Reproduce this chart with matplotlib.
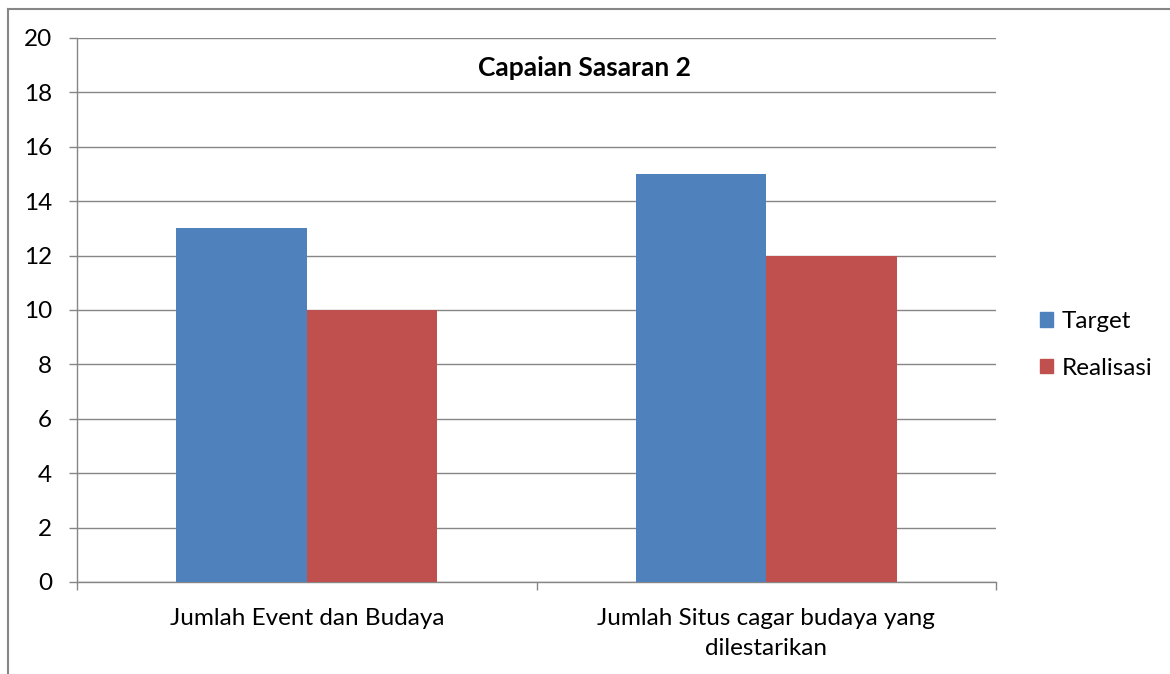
import matplotlib
matplotlib.use("Agg")
import matplotlib.pyplot as plt
from matplotlib.lines import Line2D
from matplotlib.patches import Rectangle
import numpy as np

plt.rcParams['font.family'] = ['Lato', 'DejaVu Sans']

categories = ["Jumlah Event dan Budaya", "Jumlah Situs cagar budaya yang\ndilestarikan"]
target = [13, 15]
realisasi = [10, 12]
series_names = ["Target", "Realisasi"]
colors = ["#4F81BD", "#C0504D"]
title = "Capaian Sasaran 2"
yticks = [0, 2, 4, 6, 8, 10, 12, 14, 16, 18, 20]

W, H = 1170, 674
fig = plt.figure(figsize=(W / 100, H / 100), dpi=100)
ax = fig.add_axes([77 / W, 1 - 582 / H, (996 - 77) / W, (582 - 38) / H])

x = np.arange(len(categories))
bw = 0.2845
ax.bar(x - bw / 2, target, bw, color=colors[0], zorder=3)
ax.bar(x + bw / 2, realisasi, bw, color=colors[1], zorder=3)

ax.set_xlim(-0.5, len(categories) - 0.5)
ax.set_ylim(0, 20)
ax.set_yticks(yticks)
ax.set_yticklabels([str(v) for v in yticks], fontsize=17.5)
ax.yaxis.grid(True, color="#868686", linewidth=1.0, zorder=0)
ax.set_axisbelow(True)

ax.set_xticks(x)
ax.set_xticklabels(categories, fontsize=17.5, linespacing=1.5)
ax.tick_params(axis='x', which='major', length=0, pad=19)
ax.set_xticks(np.arange(-0.5, len(categories), 1.0), minor=True)
ax.tick_params(axis='x', which='minor', length=6, width=1, color="#868686", direction='out')
ax.tick_params(axis='y', length=6, width=1, color="#868686", direction='out', pad=12)

for s in ['top', 'right']:
    ax.spines[s].set_visible(False)
for s in ['left', 'bottom']:
    ax.spines[s].set_color("#868686")
    ax.spines[s].set_linewidth(1.0)

fig.text(585 / W, 1 - 68 / H, title, fontsize=19, fontweight='bold', ha='center', va='center')

# legend
handles = [Rectangle((0, 0), 1, 1, color=c) for c in colors]
fig.legend(handles, series_names, loc='center left', bbox_to_anchor=(1018 / W, 1 - 345 / H),
           frameon=False, fontsize=17.5, handlelength=0.55, handleheight=0.55,
           handletextpad=0.35, labelspacing=1.05)

# outer border
fig.add_artist(Line2D([8 / W, 1], [1 - 9 / H, 1 - 9 / H], color="#868686", linewidth=1.5, transform=fig.transFigure))
fig.add_artist(Line2D([8 / W, 8 / W], [0, 1 - 9 / H], color="#868686", linewidth=1.5, transform=fig.transFigure))

fig.savefig("out.png", dpi=100)
